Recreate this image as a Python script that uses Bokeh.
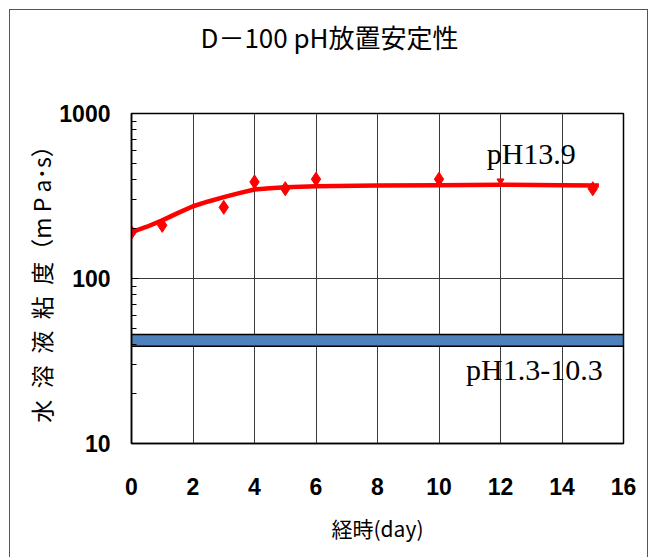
from bokeh.plotting import figure
from bokeh.models import FixedTicker, Range1d, Title
from bokeh.core.properties import value
from bokeh.embed import file_html
from bokeh.resources import INLINE

# ---- data ----
days = [0, 1, 3, 4, 5, 6, 10, 15]
viscosity = [190, 210, 270, 385, 350, 400, 400, 350]
odd_day = [12]
odd_viscosity = [390]

fit_days = [0, 0.5, 1, 1.5, 2, 2.5, 3, 3.5, 4, 4.5, 5, 6, 8, 10, 12, 14, 15.2]
fit_viscosity = [191, 206, 225, 249, 274, 293, 311, 329, 346, 352, 357, 362, 366, 368, 370, 368, 366]

band_days = [0, 16]
band_low = 38.8
band_high = 45.8

x_ticks = [0, 2, 4, 6, 8, 10, 12, 14, 16]
y_ticks = [10, 100, 1000]
y_minor = [20, 30, 40, 50, 60, 70, 80, 90, 200, 300, 400, 500, 600, 700, 800, 900]

labels = ["pH13.9", "pH1.3-10.3"]
label_x = [13, 13.1]
label_y = [570, 28]

title_text = "D－100 pH放置安定性"
x_title = "経時(day)"
y_title = "水\u2002溶\u2002液\u2002粘\u2002度（m P a･s）"

tick_font = "Liberation Sans"
cjk_font = "Noto Sans CJK JP"

p = figure(width=639, height=548, x_range=Range1d(0, 16), y_range=Range1d(10, 1000),
           y_axis_type="log", output_backend="svg", toolbar_location=None,
           min_border_left=121, min_border_right=26, min_border_top=103, min_border_bottom=115)
p.styles = {"margin-left": "9px", "margin-top": "9px",
            "border-left": "1px solid #555", "border-top": "1px solid #555",
            "border-right": "1px solid #555"}

p.title.text = ""
# spacer between frame and title (same font so its height is known)
p.add_layout(Title(text=" ", text_font=cjk_font, text_font_size="26px", standoff=20), "above")
p.add_layout(Title(text=title_text, text_font=cjk_font, text_font_size="26px",
                   text_font_style="normal", text_color="black", align="left",
                   offset=69, standoff=0), "above")

# band
p.quad(left=[band_days[0]], right=[band_days[1]], bottom=[band_low], top=[band_high],
       fill_color="#4F81BD", line_color="black", line_width=1.5)

# fit curve
p.line(fit_days, fit_viscosity, line_color="#FF0000", line_width=4.5)
# points
p.scatter(days, viscosity, marker="diamond", size=14, fill_color="#FF0000", line_color="#FF0000")
p.scatter(odd_day, odd_viscosity, marker="inverted_triangle", size=7, fill_color="#FF0000", line_color="#FF0000")

p.text(x=label_x, y=label_y, text=labels, text_font=value("Liberation Serif"),
       text_font_size="30px", text_align="center", text_baseline="alphabetic", text_color="black")

# axes
p.xaxis.ticker = FixedTicker(ticks=x_ticks)
p.yaxis.ticker = FixedTicker(ticks=y_ticks, minor_ticks=y_minor)
p.yaxis.major_label_overrides = {t: str(t) for t in y_ticks}

for ax in (p.xaxis[0], p.yaxis[0]):
    ax.major_label_text_font = tick_font
    ax.major_label_text_font_style = "bold"
    ax.major_label_text_font_size = "23px"
    ax.major_label_text_color = "black"
    ax.axis_line_color = "black"
    ax.axis_line_width = 1.5
    ax.major_tick_out = 0
    ax.minor_tick_out = 0
    ax.axis_label_text_font = cjk_font
    ax.axis_label_text_font_style = "normal"
    ax.axis_label_text_color = "black"

p.xaxis.major_tick_in = 0
p.xaxis.minor_tick_in = 0
p.xaxis.major_label_standoff = 34
p.xaxis.axis_label = x_title
p.xaxis.axis_label_text_font_size = "21px"
p.xaxis.axis_label_standoff = 15

p.yaxis.major_tick_in = 7
p.yaxis.minor_tick_in = 5
p.yaxis.major_tick_line_color = "black"
p.yaxis.minor_tick_line_color = "black"
p.yaxis.major_label_standoff = 21
p.yaxis.axis_label = y_title
p.yaxis.axis_label_text_font_size = "23px"
p.yaxis.axis_label_standoff = -2

p.xgrid.ticker = FixedTicker(ticks=x_ticks)
p.ygrid.ticker = FixedTicker(ticks=y_ticks)
p.grid.grid_line_color = "#3a3a3a"
p.grid.grid_line_width = 1
p.grid.minor_grid_line_color = None

p.outline_line_color = "black"
p.outline_line_width = 1.5
p.background_fill_color = "white"
p.border_fill_color = "white"

open("out.html", "w").write(file_html(p, INLINE))
